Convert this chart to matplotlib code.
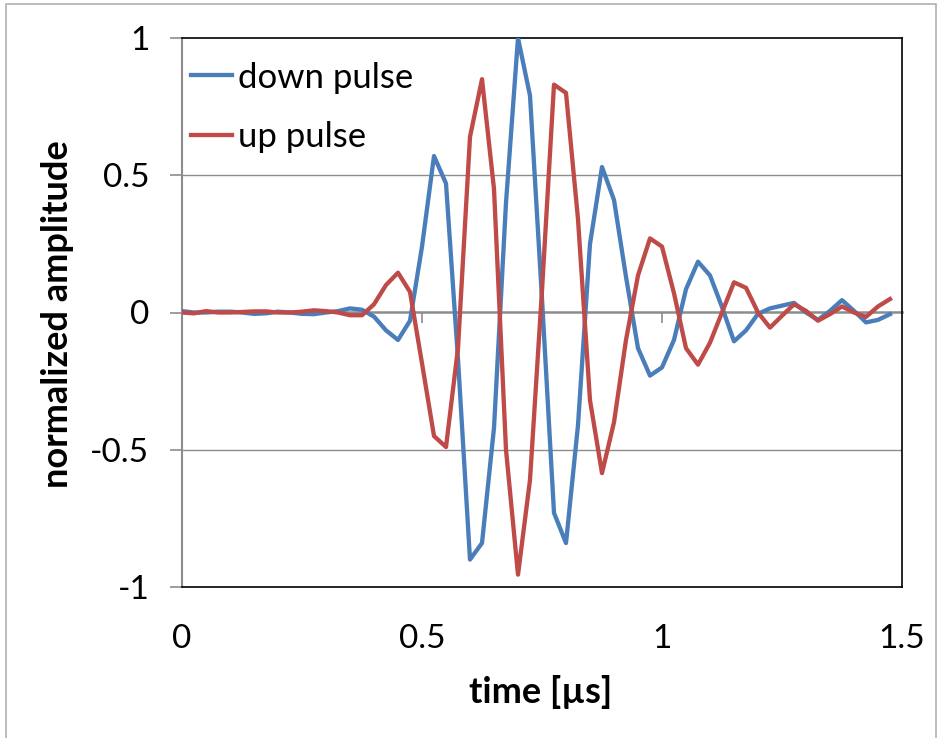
import numpy as np
import matplotlib.pyplot as plt
from matplotlib.patches import Rectangle

# sample times in microseconds (25 ns sampling)
time_us = np.arange(60) * 0.025

down_pulse = [0.005, 0.0, 0.0, 0.003, 0.003, 0.0, -0.005, -0.003, 0.003, 0.0,
              -0.005, -0.006, 0.0, 0.005, 0.015, 0.01, -0.015, -0.065, -0.10, -0.03,
              0.24, 0.57, 0.47, -0.17, -0.90, -0.84, -0.42, 0.40, 1.00, 0.79,
              0.05, -0.73, -0.84, -0.41, 0.25, 0.53, 0.41, 0.13, -0.13, -0.23,
              -0.20, -0.10, 0.085, 0.185, 0.135, 0.02, -0.105, -0.065, -0.005, 0.015,
              0.025, 0.035, 0.0, -0.027, 0.006, 0.045, 0.006, -0.036, -0.027, -0.006]

up_pulse = [0.0, -0.003, 0.005, 0.0, 0.0, 0.002, 0.004, 0.004, 0.0, 0.0,
            0.003, 0.008, 0.005, 0.0, -0.01, -0.01, 0.03, 0.10, 0.145, 0.075,
            -0.185, -0.45, -0.49, -0.13, 0.64, 0.85, 0.45, -0.50, -0.955, -0.61,
            0.08, 0.83, 0.80, 0.34, -0.32, -0.585, -0.40, -0.10, 0.135, 0.27,
            0.24, 0.07, -0.13, -0.19, -0.11, 0.0, 0.11, 0.09, 0.0, -0.055,
            -0.012, 0.03, 0.006, -0.03, -0.006, 0.022, 0.0, -0.016, 0.022, 0.049]

x_ticks = [0, 0.5, 1, 1.5]
y_ticks = [-1, -0.5, 0, 0.5, 1]

plt.rcParams['font.family'] = ['Lato', 'DejaVu Sans']

fig = plt.figure(figsize=(9.43, 7.38), dpi=100)
ax = fig.add_axes([182/943, 1 - 587/738, 720/943, 549/738])

# chart-area outline like the Excel chart
fig.patches.append(Rectangle((6/943, -0.01), 930/943, 1 - 4/738 + 0.01,
                             transform=fig.transFigure, fill=False,
                             edgecolor='#b0b0b0', linewidth=1.2))

for yv in [-0.5, 0.5]:
    ax.axhline(yv, color='#8c8c8c', linewidth=1.0, zorder=1)

ax.plot(time_us, down_pulse, color='#4a7ebb', linewidth=3.1, label='down pulse', zorder=3)
ax.plot(time_us, up_pulse, color='#be4b48', linewidth=3.1, label='up pulse', zorder=3)

ax.set_xlim(0, 1.5)
ax.set_ylim(-1, 1)
ax.set_xticks(x_ticks)
ax.set_xticklabels(['0', '0.5', '1', '1.5'])
ax.set_yticks(y_ticks)
ax.set_yticklabels(['-1', '-0.5', '0', '0.5', '1'])
ax.tick_params(axis='x', length=0, pad=27, labelsize=24)
ax.tick_params(axis='y', length=8.5, width=1.2, color='#8c8c8c', pad=15, labelsize=24)

for side in ['top', 'right', 'bottom']:
    ax.spines[side].set_color('black')
    ax.spines[side].set_linewidth(1.2)
ax.spines['left'].set_color('#8c8c8c')
ax.spines['left'].set_linewidth(1.5)

# horizontal axis crossing at zero, with tick marks pointing down
zero_ax = ax.secondary_xaxis(0.5)
zero_ax.set_xticks([0.5, 1.0])
zero_ax.set_xticklabels(['', ''])
zero_ax.xaxis.set_ticks_position('bottom')
zero_ax.tick_params(axis='x', direction='out', length=7.5, width=1.2,
                    color='#8c8c8c', labelbottom=False, labeltop=False)
for sp in zero_ax.spines.values():
    sp.set_color('#8c8c8c')
    sp.set_linewidth(1.8)

fig.text(58/943, 1 - 314/738, 'normalized amplitude', rotation=90,
         ha='center', va='center', fontsize=26, fontweight='bold')
fig.text(541/943, 1 - 692/738, 'time [µs]', ha='center', va='center',
         fontsize=26, fontweight='bold')

ax.legend(loc='upper left', bbox_to_anchor=(0.012, 0.957), frameon=False,
          fontsize=25, handlelength=1.2, handletextpad=0.15,
          labelspacing=0.78, borderpad=0, borderaxespad=0)

fig.savefig('out.png', dpi=100)
